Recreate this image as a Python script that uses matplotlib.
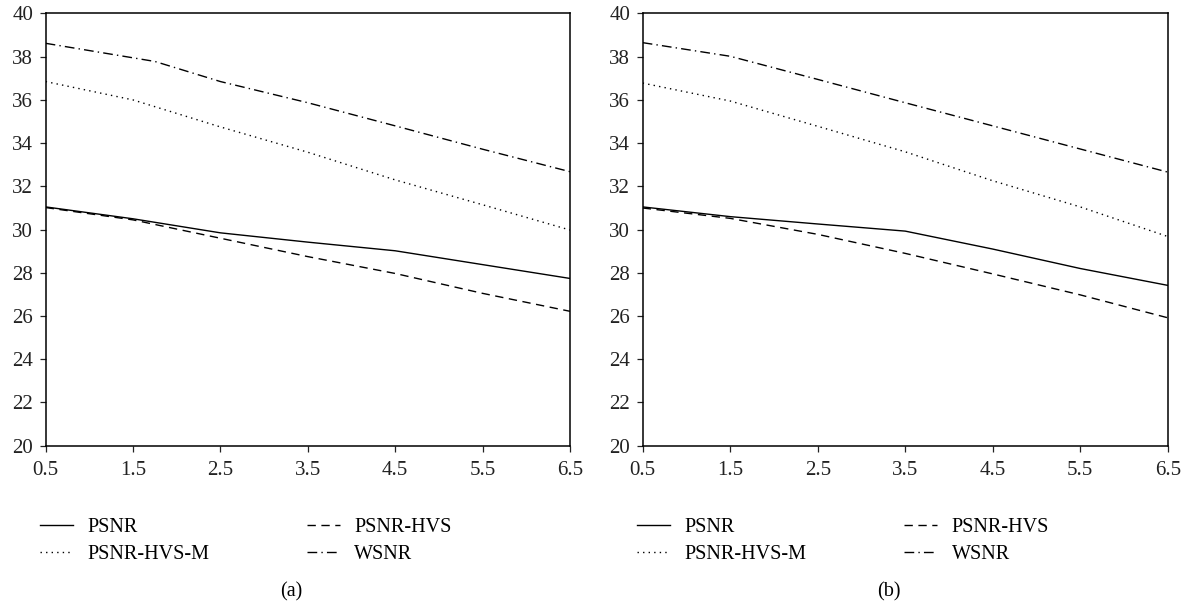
import matplotlib
matplotlib.use('Agg')
import matplotlib.pyplot as plt

plt.rcParams['font.family'] = ['Liberation Serif', 'DejaVu Serif']

# bit rate axis
x = [0.5, 1.5, 2.5, 3.5, 4.5, 5.5, 6.5]
x_wsnr_a = [0.5, 1.75, 2.5, 3.5, 4.5, 5.5, 6.5]

# (a)
psnr_a = [31.05, 30.5, 29.85, 29.42, 29.02, 28.38, 27.74]
psnr_hvs_a = [31.02, 30.45, 29.6, 28.75, 27.97, 27.05, 26.22]
psnr_hvs_m_a = [36.85, 36.0, 34.75, 33.58, 32.3, 31.15, 29.98]
wsnr_a = [38.62, 37.78, 36.85, 35.87, 34.8, 33.72, 32.68]

# (b)
psnr_b = [31.05, 30.6, 30.26, 29.93, 29.1, 28.2, 27.42]
psnr_hvs_b = [31.0, 30.52, 29.78, 28.9, 27.95, 26.98, 25.92]
psnr_hvs_m_b = [36.78, 35.95, 34.78, 33.6, 32.26, 31.05, 29.68]
wsnr_b = [38.65, 38.02, 36.95, 35.87, 34.8, 33.73, 32.66]

labels = ['PSNR', 'PSNR-HVS', 'PSNR-HVS-M', 'WSNR']
styles = ['-', (0, (6, 4)), (0, (1, 3)), (0, (7, 3, 1, 3))]
xticks = [0.5, 1.5, 2.5, 3.5, 4.5, 5.5, 6.5]
yticks = list(range(20, 41, 2))

fig = plt.figure(figsize=(11.86, 6.02), dpi=100)
ax_a = fig.add_axes([0.0385, 0.2596, 0.4421, 0.718])
ax_b = fig.add_axes([0.5419, 0.2596, 0.4427, 0.718])

panels = [
    (ax_a, [(x, psnr_a), (x, psnr_hvs_a), (x, psnr_hvs_m_a), (x_wsnr_a, wsnr_a)], '(a)'),
    (ax_b, [(x, psnr_b), (x, psnr_hvs_b), (x, psnr_hvs_m_b), (x, wsnr_b)], '(b)'),
]

for ax, series, tag in panels:
    lines = []
    for (xs, ys), lab, ls in zip(series, labels, styles):
        ln, = ax.plot(xs, ys, color='black', linestyle=ls, linewidth=1.0, label=lab)
        lines.append(ln)
    ax.set_xlim(0.5, 6.5)
    ax.set_ylim(20, 40)
    ax.set_xticks(xticks)
    ax.set_xticklabels([str(t) for t in xticks])
    ax.set_yticks(yticks)
    ax.tick_params(direction='out', length=4, width=0.9, colors='#222222',
                   labelsize=15, top=False, right=False)
    ax.tick_params(axis='x', pad=7)
    ax.tick_params(axis='y', pad=5)
    for sp in ax.spines.values():
        sp.set_linewidth(1.1)

    # two legend columns: PSNR / PSNR-HVS-M on the left, PSNR-HVS / WSNR on the right
    leg_kw = dict(loc='upper left', frameon=False, fontsize=14.5, handlelength=1.65,
                  handletextpad=0.7, labelspacing=0.38, borderpad=0, borderaxespad=0)
    leg1 = ax.legend([lines[0], lines[2]], [labels[0], labels[2]],
                     bbox_to_anchor=(-0.011, -0.167), **leg_kw)
    ax.add_artist(leg1)
    ax.legend([lines[1], lines[3]], [labels[1], labels[3]],
              bbox_to_anchor=(0.498, -0.167), **leg_kw)

    ax.text(0.469, -0.338, tag, transform=ax.transAxes, ha='center', va='center',
            fontsize=14.5)

fig.savefig('out.png', dpi=100)
